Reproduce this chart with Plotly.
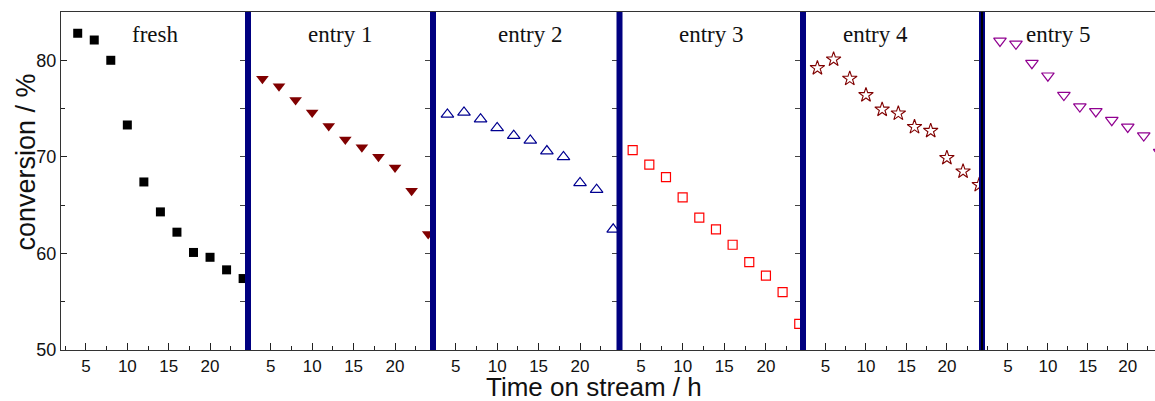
import plotly.graph_objects as go
from plotly.subplots import make_subplots

hours = [4, 6, 8, 10, 12, 14, 16, 18, 20, 22, 24]
panel_names = ["fresh", "entry 1", "entry 2", "entry 3", "entry 4", "entry 5"]
fresh = [82.8, 82.1, 80.0, 73.3, 67.4, 64.3, 62.2, 60.1, 59.6, 58.3, 57.4]
entry1 = [78.1, 77.3, 75.9, 74.6, 73.2, 71.8, 71.0, 70.0, 68.9, 66.5, 62.0]
entry2 = [74.4, 74.6, 73.9, 73.0, 72.2, 71.7, 70.6, 70.0, 67.3, 66.6, 62.5]
entry3 = [70.7, 69.2, 67.9, 65.8, 63.7, 62.5, 60.9, 59.1, 57.7, 56.0, 52.7]
entry4 = [79.2, 80.1, 78.1, 76.4, 74.9, 74.5, 73.1, 72.7, 69.9, 68.5, 67.1]
entry5 = [82.0, 81.7, 79.7, 78.4, 76.4, 75.2, 74.7, 73.8, 73.1, 72.2, 70.5]
series = [fresh, entry1, entry2, entry3, entry4, entry5]
x_tick_vals = [5, 10, 15, 20]
y_tick_vals = [50, 60, 70, 80]
label_x = [13.3, 13.4, 14.0, 13.5, 11.2, 11.3]

styles = [
    dict(symbol="square", size=9, color="#000000"),
    dict(symbol="triangle-down", size=11, color="#800000"),
    dict(symbol="triangle-up-open", size=11, color="#000090", line=dict(width=1.2, color="#000090")),
    dict(symbol="square-open", size=9, color="#FF0000", line=dict(width=1.2, color="#FF0000")),
    dict(symbol="star-open", size=11, color="#800000", line=dict(width=1.1, color="#800000")),
    dict(symbol="triangle-down-open", size=11, color="#900090", line=dict(width=1.2, color="#900090")),
]

W, H = 1155, 401
L, T, B, R = 61, 12, 51, 0
pw = W - L - R
bounds_px = [61, 248, 433, 619.5, 803, 982, 1155]
doms = [((bounds_px[i] - L) / pw, (bounds_px[i + 1] - L) / pw) for i in range(6)]
ranges = [[1.98, 24.59], [2.26, 24.58], [2.26, 24.76], [2.42, 24.45], [2.22, 24.34], [1.75, 23.41]]

fig = make_subplots(rows=1, cols=6, shared_yaxes=True, horizontal_spacing=0)

for i in range(6):
    fig.add_trace(go.Scatter(x=hours, y=series[i], mode="markers", marker=styles[i],
                             name=panel_names[i], showlegend=False, cliponaxis=True),
                  row=1, col=i + 1)

tickfont = dict(family="Liberation Sans, Arial, sans-serif", size=17, color="#111")
for i in range(6):
    xn = "xaxis" if i == 0 else f"xaxis{i+1}"
    fig.layout[xn].update(
        domain=list(doms[i]), range=ranges[i],
        tickmode="array", tickvals=x_tick_vals,
        ticks="inside", ticklen=7, tickcolor="#222", tickwidth=1,
        minor=dict(tickmode="array", tickvals=[2.5, 7.5, 12.5, 17.5, 22.5],
                   ticks="inside", ticklen=4, tickcolor="#222"),
        showline=True, linecolor="#333", linewidth=1.2, mirror=True,
        showgrid=False, zeroline=False, tickfont=tickfont,
    )
    yn = "yaxis" if i == 0 else f"yaxis{i+1}"
    if i == 0:
        fig.layout[yn].update(
            range=[50, 85], tickmode="array", tickvals=y_tick_vals,
            ticks="inside", ticklen=6, tickcolor="#222",
            minor=dict(tickmode="array", tickvals=[55, 65, 75], ticks="inside",
                       ticklen=4, tickcolor="#222"),
            showline=True, linecolor="#333", linewidth=1.2,
            showgrid=False, zeroline=False,
            tickfont=dict(family="Liberation Sans, Arial, sans-serif", size=18, color="#111"),
            ticklabelstandoff=0,
        )
    else:
        fig.layout[yn].update(
            range=[50, 85], tickmode="array", tickvals=[55, 60, 65, 70, 75, 80],
            ticks="outside", ticklen=7, tickcolor="#444",
            showticklabels=False, showline=False, showgrid=False, zeroline=False,
        )

# panel separators
for j in range(1, 6):
    xp = doms[j][0]
    fig.add_shape(type="line", xref="paper", yref="paper", x0=xp, x1=xp, y0=0, y1=1,
                  line=dict(color="#000080", width=6), layer="above")
fig.add_shape(type="line", xref="paper", yref="paper", x0=doms[5][0], x1=doms[5][0], y0=0, y1=1,
              line=dict(color="#000000", width=2), layer="above")

# panel labels
for i in range(6):
    xr = "x" if i == 0 else f"x{i+1}"
    fig.add_annotation(x=label_x[i], xref=xr, y=(350 - 34) / 338, yref="paper",
                       text=panel_names[i], showarrow=False, xanchor="center", yanchor="middle",
                       font=dict(family="Liberation Serif, Times New Roman, serif", size=23, color="#111"))

fig.add_annotation(x=(25 - L) / pw, y=(350 - 162.5) / 338, xref="paper", yref="paper",
                   text="conversion / %", textangle=-90, showarrow=False,
                   xanchor="center", yanchor="middle",
                   font=dict(family="Liberation Sans, Arial, sans-serif", size=27, color="#111"))
fig.add_annotation(x=(594 - L) / pw, y=(350 - 387) / 338, xref="paper", yref="paper",
                   text="Time on stream / h", showarrow=False,
                   xanchor="center", yanchor="middle",
                   font=dict(family="Liberation Sans, Arial, sans-serif", size=26, color="#111"))

fig.update_layout(width=W, height=H, margin=dict(l=L, r=R, t=T, b=B),
                  plot_bgcolor="white", paper_bgcolor="white", showlegend=False)

fig.write_html("out.html", config={"displayModeBar": False},
               post_script="document.body.style.margin='0';document.body.style.overflow='hidden';")
